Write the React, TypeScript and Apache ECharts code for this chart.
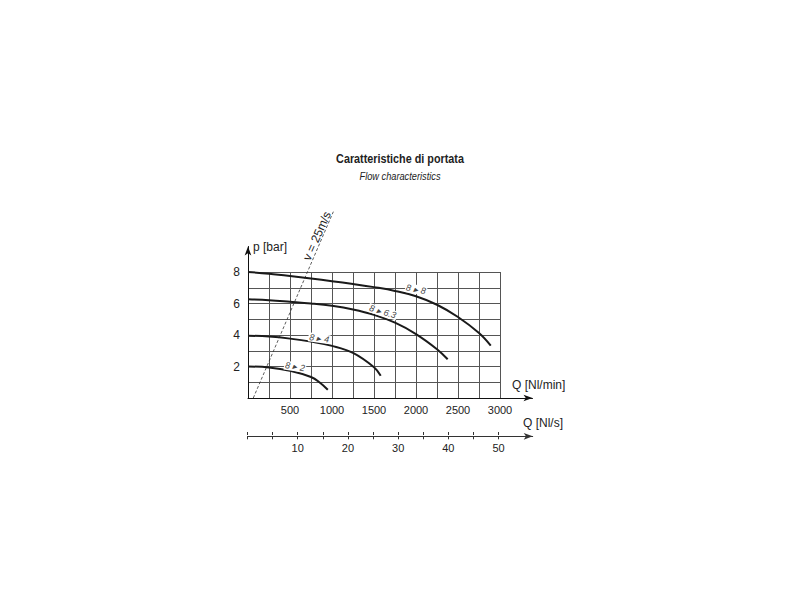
import React, { useEffect, useRef } from "react";
import * as echarts from "echarts";

// ---- data (Q in Nl/min, p in bar) ----
const curve8to8 = [
  [0, 8.0], [250, 7.89], [500, 7.75], [750, 7.59], [1000, 7.42], [1250, 7.24],
  [1500, 7.04], [1750, 6.8], [2000, 6.46], [2250, 5.92], [2500, 5.14], [2750, 4.12], [2890, 3.32],
];
const curve8to63 = [
  [0, 6.27], [250, 6.21], [500, 6.11], [750, 6.0], [1000, 5.85], [1250, 5.62],
  [1500, 5.28], [1750, 4.78], [2000, 4.06], [2250, 3.1], [2377, 2.46],
];
const curve8to4 = [
  [0, 3.96], [250, 3.9], [500, 3.77], [750, 3.58], [1000, 3.31], [1250, 2.86],
  [1500, 1.95], [1580, 1.41],
];
const curve8to2 = [
  [0, 2.0], [250, 1.94], [500, 1.73], [750, 1.33], [850, 1.0], [950, 0.52],
];
const velocityLine = [[63, 0], [1016, 11.83]];

const curveNames = ["8 ▸ 8", "8 ▸ 6.3", "8 ▸ 4", "8 ▸ 2"];
const curveLabelAt = [[2000, 6.9], [1604, 5.48], [849, 3.79], [560, 1.99]];
const curveLabelRotate = [-11, -17, -8, -9];

const xTickLabels = [500, 1000, 1500, 2000, 2500, 3000];
const yTickLabels = [2, 4, 6, 8];
const nlsTicks = [0, 5, 10, 15, 20, 25, 30, 35, 40, 45, 50];
const nlsLabels = [10, 20, 30, 40, 50];

const titleText = "Caratteristiche di portata";
const subtitleText = "Flow characteristics";

const SANS = "'Liberation Sans', Arial, Helvetica, sans-serif";

export default function App() {
  const ref = useRef<HTMLDivElement>(null);

  useEffect(() => {
    if (!ref.current) return;
    const chart = echarts.init(ref.current, null, { renderer: "svg" });

    const curves = [curve8to8, curve8to63, curve8to4, curve8to2];
    const curveSeries = curves.map((data, i) => ({
      type: "line",
      xAxisIndex: 0,
      yAxisIndex: 0,
      data,
      smooth: 0.4,
      symbol: "none",
      silent: true,
      z: 3,
      lineStyle: { color: "#1a1a1a", width: 2 },
      markPoint: {
        silent: true,
        symbol: "rect",
        symbolSize: 1,
        itemStyle: { color: "rgba(0,0,0,0)" },
        label: {
          show: true,
          position: "inside",
          formatter: curveNames[i],
          rotate: curveLabelRotate[i],
          fontSize: 9,
          fontStyle: "italic",
          fontFamily: SANS,
          color: "#444",
          backgroundColor: "#fff",
          padding: [0, 1],
        },
        data: [{ coord: curveLabelAt[i] }],
      },
    }));

    const option = {
      animation: false,
      textStyle: { fontFamily: SANS },
      grid: [
        { left: 248, top: 272, width: 252, height: 126 },
        { left: 248, top: 246.5, width: 284.5, height: 151.5 },
        { left: 247.5, top: 432, width: 285.2, height: 4.3 },
      ],
      xAxis: [
        {
          gridIndex: 0, type: "value", min: 0, max: 3000, interval: 250,
          axisLine: { show: false }, axisTick: { show: false },
          splitLine: { show: true, lineStyle: { color: "#555", width: 1 } },
          axisLabel: {
            formatter: (v: number) => (xTickLabels.includes(v) ? String(v) : ""),
            fontSize: 11, color: "#222", margin: 6, fontFamily: SANS,
          },
        },
        {
          gridIndex: 1, type: "value", min: 0, max: 1,
          axisLine: { show: true, symbol: ["none", "arrow"], symbolSize: [5, 9], lineStyle: { color: "#111", width: 1 } },
          axisTick: { show: false }, axisLabel: { show: false }, splitLine: { show: false },
        },
        {
          gridIndex: 2, type: "value", min: 0, max: 56.8,
          axisLine: { show: true, symbol: ["none", "arrow"], symbolSize: [5, 9], lineStyle: { color: "#333", width: 1 } },
          axisTick: { show: true, customValues: nlsTicks, length: 3, lineStyle: { color: "#333" } },
          axisLabel: { customValues: nlsLabels, fontSize: 11, color: "#222", margin: 6, fontFamily: SANS },
          splitLine: { show: false },
        },
        {
          gridIndex: 2, type: "value", min: 0, max: 56.8,
          axisLine: { show: false },
          axisTick: { show: true, inside: true, customValues: nlsTicks, length: 3, lineStyle: { color: "#333" } },
          axisLabel: { show: false },
          splitLine: { show: false },
        },
      ],
      yAxis: [
        {
          gridIndex: 0, type: "value", min: 0, max: 8, interval: 1,
          axisLine: { show: false }, axisTick: { show: false },
          splitLine: { show: true, lineStyle: { color: "#555", width: 1 } },
          axisLabel: {
            formatter: (v: number) => (yTickLabels.includes(v) ? String(v) : ""),
            fontSize: 12, color: "#222", margin: 8, fontFamily: SANS,
          },
        },
        {
          gridIndex: 1, type: "value", min: 0, max: 1,
          axisLine: { show: true, symbol: ["none", "arrow"], symbolSize: [5, 9], lineStyle: { color: "#111", width: 1 } },
          axisTick: { show: false }, axisLabel: { show: false }, splitLine: { show: false },
        },
        { gridIndex: 2, type: "value", min: 0, max: 1, show: false },
      ],
      graphic: [
        {
          type: "text", x: 400, y: 159, scaleX: 0.8,
          style: { text: titleText, fontSize: 13.5, fontWeight: "bold", fontFamily: SANS, fill: "#222", align: "center", verticalAlign: "middle" },
        },
        {
          type: "text", x: 400, y: 176, scaleX: 0.84,
          style: { text: subtitleText, fontSize: 11, fontStyle: "italic", fontFamily: SANS, fill: "#222", align: "center", verticalAlign: "middle" },
        },
        { type: "text", left: 253, top: 241, style: { text: "p [bar]", fontSize: 12, fontFamily: SANS, fill: "#222" } },
        { type: "text", left: 512, top: 379, style: { text: "Q [Nl/min]", fontSize: 12, fontFamily: SANS, fill: "#222" } },
        { type: "text", left: 523, top: 416.5, style: { text: "Q [Nl/s]", fontSize: 12, fontFamily: SANS, fill: "#222" } },
        {
          type: "text", x: 317, y: 236, rotation: (66 * Math.PI) / 180,
          style: { text: "v = 25m/s", fontSize: 12, fontFamily: SANS, fill: "#222", align: "center", verticalAlign: "middle" },
        },
      ],
      series: [
        ...curveSeries,
        {
          type: "line", xAxisIndex: 0, yAxisIndex: 0, data: velocityLine, symbol: "none",
          silent: true, clip: false, z: 2,
          lineStyle: { color: "#333", width: 0.8, type: [3, 2] },
        },
      ],
    };

    chart.setOption(option as any);
    return () => chart.dispose();
  }, []);

  return (
    <div
      ref={ref}
      style={{ position: "fixed", left: 0, top: 0, width: 800, height: 600, background: "#fff" }}
    />
  );
}
